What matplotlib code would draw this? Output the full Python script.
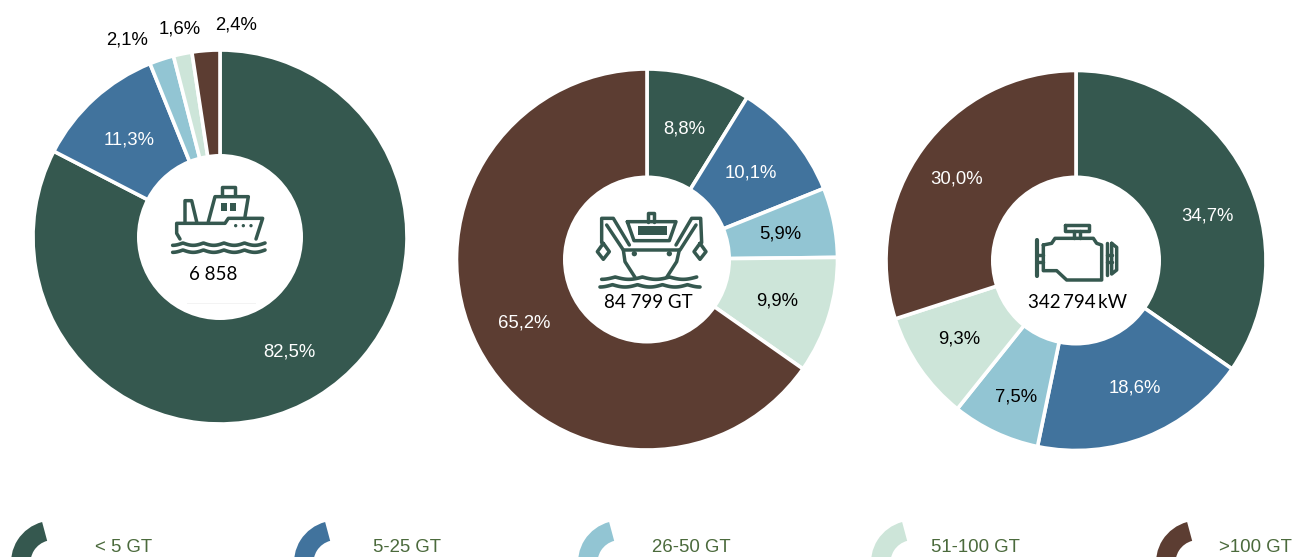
import numpy as np
import matplotlib
matplotlib.use('Agg')
import matplotlib.pyplot as plt
from matplotlib.patches import Wedge, Circle, Rectangle

# values, clockwise from 12 o'clock
categories = ['< 5 GT', '5-25 GT', '26-50 GT', '51-100 GT', '>100 GT']
vessels = [82.5, 11.3, 2.1, 1.6, 2.4]
tonnage = [8.8, 10.1, 5.9, 9.9, 65.2]
power = [34.7, 18.6, 7.5, 9.3, 30.0]
totals = ['6 858', '84 799 GT', '342\u2009794\u2009kW']

colors = ['#35584f', '#41739d', '#92c5d3', '#cde5d9', '#5c3d32']
label_colors = ['white', 'white', 'black', 'black', 'white']
legend_color = '#4b6a3c'
H = 557

# label positions in picture pixels
vessel_xy = [(289, 352), (129, 140), (127, 40), (180, 29), (236, 25)]
tonnage_xy = [(684, 129), (751, 173), (780, 234), (777, 301), (524, 323)]
power_xy = [(1207, 216), (1135, 388), (1016, 397), (959, 339), (957, 179)]
legend_x = [95, 373, 652, 931, 1219]
legend_arc_x = [53, 336, 620, 913, 1198]

fig = plt.figure(figsize=(12.95, 5.57), dpi=100)
ax = fig.add_axes([0, 0, 1, 1])


def donut(values, cx, cy, R, r, label_xy, total, total_xy):
    ax.pie(values, colors=colors, startangle=90, counterclock=False, radius=R,
           center=(cx, H - cy), frame=True,
           wedgeprops=dict(edgecolor='white', linewidth=2.6))
    ax.add_patch(Circle((cx, H - cy), r, fc='white', ec='none', zorder=3))
    for i, (x, y) in enumerate(label_xy):
        # the small slices of the first donut are labelled outside the ring
        c = label_colors[i]
        if values is vessels and i >= 2:
            c = 'black'
        ax.text(x, H - y, f'{values[i]:.1f}%'.replace('.', ','), color=c,
                fontsize=13.3, family='Liberation Sans', ha='center', va='center', zorder=4)
    ax.text(total_xy[0], H - total_xy[1], total, color='black', fontsize=13.5,
            family=['Lato', 'DejaVu Sans'], ha='center', va='center', zorder=5)


donut(vessels, 220, 237, 187, 83, vessel_xy, totals[0], (213, 274.5))
donut(tonnage, 647, 259.5, 190.5, 84, tonnage_xy, totals[1], (648, 302.5))
donut(power, 1076, 260.5, 190, 85, power_xy, totals[2], (1077, 303))
ax.plot([187, 255], [H - 303, H - 303], color='#f3f3f3', lw=0.7, zorder=4, scalex=False, scaley=False)


def icon_line(pts, ox, oy, closed=False, lw=2.5):
    # pts in 3x crop coordinates of the icon
    pts = list(pts)
    if closed:
        pts.append(pts[0])
    xs = [ox + p[0] / 3 for p in pts]
    ys = [H - (oy + p[1] / 3) for p in pts]
    ax.plot(xs, ys, color=colors[0], lw=lw, zorder=6, solid_capstyle='round',
            solid_joinstyle='round', scalex=False, scaley=False)


def wave(x0, x1, y, n, ox, oy, amp=7):
    t = np.linspace(0, 1, 120)
    xs = x0 + (x1 - x0) * t
    ys = y + amp * np.abs(np.cos(np.pi * n * t)) - amp
    icon_line(list(zip(xs, ys)), ox, oy, lw=2.6)


def icon_rect(x, y, w, h, ox, oy):
    ax.add_patch(Rectangle((ox + x / 3, H - (oy + (y + h) / 3)), w / 3, h / 3,
                           fc=colors[0], ec='none', zorder=6))


def icon_dot(x, y, r, ox, oy):
    ax.add_patch(Circle((ox + x / 3, H - (oy + y / 3)), r / 3, fc=colors[0], ec='none', zorder=6))


# small trawler
ox, oy = 130, 170
icon_line([(150, 207), (140, 190), (140, 160), (285, 160), (295, 145), (398, 145), (378, 207)], ox, oy)
icon_line([(235, 155), (255, 80), (355, 80), (345, 140)], ox, oy)
icon_line([(277, 75), (277, 52), (315, 52), (315, 75)], ox, oy)
icon_line([(165, 155), (165, 92), (185, 92), (200, 155)], ox, oy)
icon_rect(274, 99, 16, 23, ox, oy)
icon_rect(300, 99, 17, 23, ox, oy)
for dx in (317, 340, 363):
    icon_dot(dx, 167, 5, ox, oy)
wave(128, 405, 226, 4.5, ox, oy)
wave(128, 405, 247, 4.5, ox, oy)

# dredger / large vessel
ox, oy = 570, 190
icon_line([(172, 95), (318, 95), (298, 152), (192, 152)], ox, oy, closed=True)
icon_rect(205, 107, 85, 27, ox, oy)
icon_line([(235, 95), (235, 70), (252, 70), (252, 95)], ox, oy)
icon_line([(95, 158), (95, 85), (130, 85), (178, 165)], ox, oy)
icon_line([(110, 105), (160, 180), (330, 180), (378, 105)], ox, oy)
icon_line([(395, 158), (392, 85), (365, 85), (318, 165)], ox, oy)
icon_line([(160, 180), (165, 215), (195, 262)], ox, oy)
icon_line([(328, 180), (320, 215), (290, 262)], ox, oy)
icon_line([(100, 160), (118, 185), (100, 208), (82, 185)], ox, oy, closed=True)
icon_line([(390, 160), (408, 185), (390, 208), (372, 185)], ox, oy, closed=True)
icon_dot(193, 191, 8, ox, oy)
icon_dot(298, 191, 8, ox, oy)
wave(95, 380, 268, 3.5, ox, oy)
wave(90, 390, 291, 4, ox, oy)

# engine
ox, oy = 1000, 200
icon_line([(195, 76), (268, 76), (268, 94), (195, 94)], ox, oy, closed=True)
icon_line([(222, 94), (222, 115)], ox, oy)
icon_line([(240, 94), (240, 115)], ox, oy)
icon_line([(130, 135), (155, 130), (165, 115), (280, 115), (290, 130), (305, 135), (305, 240),
           (200, 240), (170, 212), (130, 212)], ox, oy, closed=True)
icon_line([(110, 120), (110, 228)], ox, oy, lw=3)
icon_line([(110, 165), (130, 165)], ox, oy)
icon_line([(110, 185), (130, 185)], ox, oy)
icon_line([(320, 130), (320, 225)], ox, oy)
icon_line([(320, 165), (335, 165)], ox, oy)
icon_line([(320, 185), (335, 185)], ox, oy)
icon_line([(335, 130), (350, 142), (350, 210), (335, 222)], ox, oy, closed=True)

# legend: ring pieces cut by the lower edge of the picture
for i, cat in enumerate(categories):
    ax.add_patch(Wedge((legend_arc_x[i], H - 562.6), 42, 105, 190, width=19.5, fc=colors[i], ec='none'))
    ax.text(legend_x[i], H - 547.5, cat, color=legend_color, fontsize=13.4,
            family='Liberation Sans', ha='left', va='center')

ax.set_xlim(0, 1295)
ax.set_ylim(0, H)
ax.set_aspect('equal')
ax.set_axis_off()
fig.savefig('out.png', dpi=100)
